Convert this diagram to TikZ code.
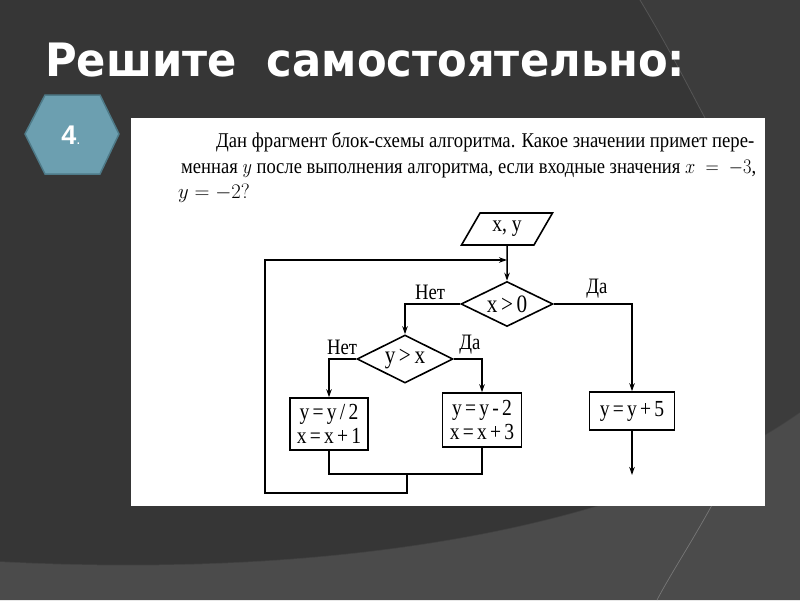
\documentclass[tikz,border=0pt]{standalone}
\usepackage{fontspec}
\setmainfont{Liberation Serif}
\newfontfamily\titlefont{DejaVu Sans}
\newfontfamily\numfont{Liberation Sans}
\usetikzlibrary{shapes.geometric,arrows.meta}
\definecolor{bgdark}{HTML}{363636}
\definecolor{bglight}{HTML}{4B4B4B}
\definecolor{bgmid}{HTML}{3C3C3C}
\definecolor{bgline}{HTML}{555555}
\definecolor{hexfill}{HTML}{6C9FB0}
\definecolor{hexline}{HTML}{4E7A88}
\tikzset{
  fc/.style={draw=black, line width=1.6pt, fill=white, inner sep=0pt},
  blockbox/.style={fc, rectangle, align=center, font=\fontsize{23}{24}\selectfont},
  decbox/.style={fc, diamond, aspect=2, font=\fontsize{25}{25}\selectfont},
  iobox/.style={fc, trapezium, trapezium left angle=57, trapezium right angle=123,
    trapezium stretches=true, font=\fontsize{23}{22}\selectfont},
  conn/.style={line width=1.5pt, -{Stealth[length=8pt,width=5.5pt]}},
  plain/.style={line width=1.5pt},
  lbl/.style={font=\fontsize{22}{22}\selectfont, inner sep=0pt},
  ptext/.style={anchor=base west, inner sep=0pt, font=\fontsize{21}{24}\selectfont}
}
\newcommand{\cnd}[1]{\scalebox{0.85}[1]{#1}}
\begin{document}
\begin{tikzpicture}[x=1pt,y=-1pt]
\useasboundingbox (0,0) rectangle (800,600);
% background
\fill[bgdark] (0,0) rectangle (800,600);
\fill[bgmid] (640,0) .. controls (670,50) and (690,90) .. (705,118) -- (800,118) -- (800,0) -- cycle;
\draw[bgline, line width=0.8pt] (640,0) .. controls (670,50) and (690,90) .. (705,118);
\fill[bgmid] (765,118) rectangle (800,440);
\fill[bglight] (0,562) .. controls (300,578) and (620,540) .. (800,413) -- (800,600) -- (0,600) -- cycle;
\draw[black!70, line width=1.5pt, opacity=0.5] (0,562) .. controls (300,578) and (620,540) .. (800,413);
\draw[bgline!80!white, line width=0.7pt] (712,505) .. controls (690,545) and (670,575) .. (657,600);
% title
\node[anchor=base west, inner sep=0pt, text=white] (title) at (45,76)
  {\resizebox{640pt}{\height}{\titlefont\bfseries\fontsize{46}{48}\selectfont Решите\ \ самостоятельно:}};
% hexagon
\filldraw[fill=hexfill, draw=hexline, line width=1.5pt]
  (25,134) -- (45,95) -- (100,95) -- (119,134) -- (100,174) -- (45,174) -- cycle;
\node[text=white, inner sep=0pt] (num) at (71,135)
  {\numfont\fontsize{27}{27}\selectfont\textbf{4}{\fontsize{15}{15}\selectfont.}};
% panel
\fill[white] (131,118) rectangle (765,506);
\node[ptext] (t1) at (216,147) {\resizebox{538pt}{\height}{Дан фрагмент блок-схемы алгоритма. Какое значении примет пере-}};
\node[ptext] (t2) at (181,173) {\resizebox{575pt}{\height}{менная $y$ после выполнения алгоритма, если входные значения $x\;=\;-3$,}};
\node[ptext] (t3) at (178,198) {$y = -2?$};
% flowchart
\node[iobox, minimum width=91pt, minimum height=32pt] (in) at (507,229) {\cnd{x, y}};
\node[decbox, minimum width=92pt, minimum height=45pt] (d1) at (507,304) {\cnd{x\,>\,0}};
\node[decbox, minimum width=96pt, minimum height=48pt] (d2) at (405,359) {\cnd{y\,>\,x}};
\node[blockbox, minimum width=78pt, minimum height=52pt] (b1) at (329,424) {\cnd{y\,=\,y\,/\,2}\\\cnd{x\,=\,x\,+\,1}};
\node[blockbox, minimum width=79pt, minimum height=54pt] (b2) at (482,420) {\cnd{y\,=\,y\,-\,2}\\\cnd{x\,=\,x\,+\,3}};
\node[blockbox, minimum width=85pt, minimum height=38pt] (b3) at (632,411) {\cnd{y\,=\,y\,+\,5}};
\coordinate (j) at (507,260);
\coordinate (m1) at (407,474);
\coordinate (lb) at (265,493);
\coordinate (out) at (632,475);
\draw[conn] (in.south) -- (d1.north);
\draw[conn] (d1.west) -| (d2.north);
\draw[conn] (d1.east) -| (b3.north);
\draw[conn] (d2.west) -| (b1.north);
\draw[conn] (d2.east) -| (b2.north);
\draw[conn] (b3.south) -- (out);
\draw[plain] (b1.south) |- (m1) -| (b2.south);
\draw[conn] (m1) |- (lb) |- (j);
\node[lbl] (n1) at (430,292) {\cnd{Нет}};
\node[lbl] (y1) at (597,289) {\cnd{Да}};
\node[lbl] (n2) at (342,347) {\cnd{Нет}};
\node[lbl] (y2) at (470,345) {\cnd{Да}};
\end{tikzpicture}
\end{document}
